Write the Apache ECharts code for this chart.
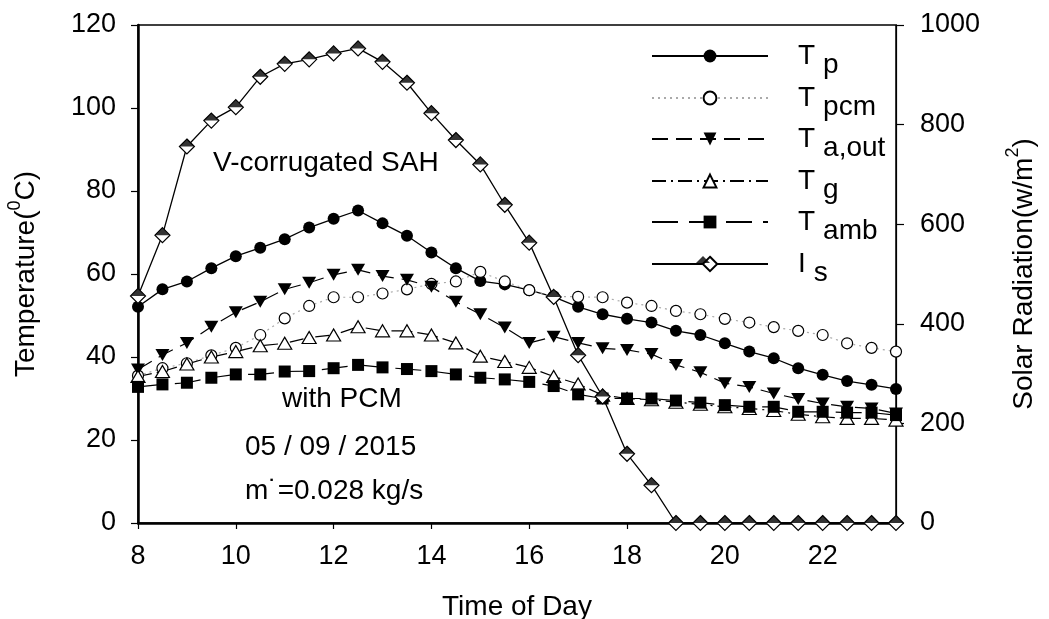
<!DOCTYPE html>
<html>
<head>
<meta charset="utf-8">
<script src="https://cdn.jsdelivr.net/npm/echarts@6/dist/echarts.min.js"></script>
<style>html,body{margin:0;padding:0;background:#fff;}#c{width:1049px;height:619px;}</style>
</head>
<body>
<div id="c"></div>
<script>
// ---- data ----
var time = [8,8.5,9,9.5,10,10.5,11,11.5,12,12.5,13,13.5,14,14.5,15,15.5,16,16.5,17,17.5,18,18.5,19,19.5,20,20.5,21,21.5,22,22.5,23,23.5];
var Tp   = [52.1,56.3,58.2,61.4,64.3,66.3,68.4,71.2,73.3,75.3,72.2,69.2,65.2,61.4,58.3,57.5,56.1,54.5,52.1,50.3,49.2,48.3,46.3,45.3,43.3,41.3,39.7,37.3,35.7,34.2,33.3,32.3];
var Tpcm = [35.5,37.3,38.5,40.4,42.2,45.3,49.3,52.3,54.4,54.4,55.3,56.3,57.6,58.2,60.5,58.2,56.1,54.6,54.5,54.4,53.1,52.3,51.1,50.3,49.2,48.3,47.2,46.3,45.3,43.3,42.2,41.3];
var Taout= [37.0,40.5,43.4,47.3,50.8,53.3,56.3,57.9,59.8,61.0,59.5,58.6,56.9,53.3,50.3,47.1,43.4,44.9,43.4,42.1,41.7,40.7,38.1,36.3,33.7,32.8,31.2,29.9,28.8,28.0,27.6,26.4];
var Tg   = [35.3,36.5,38.3,40.0,41.3,42.7,43.3,44.7,45.3,47.3,46.3,46.3,45.3,43.4,40.2,38.9,37.5,35.3,33.5,30.8,30.0,29.7,29.1,28.6,28.0,27.6,27.1,26.2,25.6,25.2,25.2,24.8];
var Tamb = [32.8,33.4,33.8,35.0,35.8,35.8,36.5,36.6,37.3,38.1,37.5,37.1,36.6,35.8,35.0,34.6,34.0,33.0,31.0,30.0,30.0,30.0,29.5,29.0,28.4,28.0,28.0,26.8,26.8,26.6,26.6,26.0];
var Is   = [456,578,756,808,835,896,922,931,943,953,926,884,823,769,720,639,563,454,337,254,139,76,0,0,0,0,0,0,0,0,0,0];
var xTicks = [8,10,12,14,16,18,20,22];
var seriesNames = ['T_p','T_pcm','T_a,out','T_g','T_amb','I_s'];
var legendMain  = ['T','T','T','T','T','I'];
var legendSub   = ['p','pcm','a,out','g','amb','s'];
var annotations = ['V-corrugated SAH','with PCM','05 / 09 / 2015','m\u02D9=0.028 kg/s'];

function pairs(v){ return time.map(function(t,i){ return [t, v[i]]; }); }

var FF = 'Liberation Sans, Arial, Helvetica, sans-serif';
// top half of a diamond, with an invisible point keeping the full diamond's bounding box
var HALF_DIAMOND = 'path://M0,7 L7,0 L14,7 Z M7,14 L7,14';
var chart = echarts.init(document.getElementById('c'), null, {renderer:'canvas'});

var legendCenters = [55, 97, 138, 180, 221, 263];
var legends = seriesNames.map(function(n, i){
  return {
    data: [n], left: 646, top: legendCenters[i] - 18, orient:'vertical', z:5,
    itemWidth: 116, itemHeight: (i===5?18:16), selectedMode:false,
    formatter: function(){ return '{t|' + legendMain[i] + '}{s|' + legendSub[i] + '}'; },
    textStyle: { rich: {
      t: {fontSize:28, fontFamily:FF, color:'#000', padding:[0,0,0,25]},
      s: {fontSize:28, fontFamily:FF, color:'#000', padding:[18,0,0,8]}
    }}
  };
});
legends.push({
  data:['I_s top'], left: 703-7, top: 263-7, padding:0, itemWidth:14, itemHeight:14, icon:HALF_DIAMOND, z:20,
  selectedMode:false, formatter:function(){return '';}, textStyle:{fontSize:6},
  itemStyle:{color:'#000'}
});

var blk = '#000';
var option = {
  animation:false,
  backgroundColor:'#fff',
  grid:{left:138, right:153, top:25, bottom:96, show:true, borderColor:'#000', borderWidth:1.5,
        backgroundColor:'transparent', outerBoundsMode:'none', containLabel:false},
  legend: legends,
  xAxis:{
    type:'value', min:8, max:23.5, interval:2,
    axisLine:{show:true, onZero:false, lineStyle:{color:blk, width:2.5}},
    axisTick:{show:true, inside:false, length:6, lineStyle:{color:blk, width:1.2}, customValues:xTicks},
    axisLabel:{customValues:xTicks, margin:20, fontSize:27, fontFamily:FF, color:blk},
    splitLine:{show:false},
    name:'Time of Day', nameLocation:'middle', nameGap:70,
    nameTextStyle:{fontSize:28, fontFamily:FF, color:blk}
  },
  yAxis:[{
    type:'value', min:0, max:120, interval:20, position:'left',
    axisLine:{show:true, onZero:false, lineStyle:{color:blk, width:2.5}},
    axisTick:{show:true, inside:false, length:7, lineStyle:{color:blk, width:1.2}},
    axisLabel:{margin:22, fontSize:27, fontFamily:FF, color:blk},
    splitLine:{show:false},
    name:'{n|Temperature(}{sup|0}{n|C)}', nameLocation:'middle', nameGap:92,
    nameTextStyle:{rich:{
      n:{fontSize:28, fontFamily:FF, color:blk},
      sup:{fontSize:18, fontFamily:FF, color:blk, padding:[0,0,22,0]}
    }}
  },{
    type:'value', min:0, max:1000, interval:200, position:'right',
    axisLine:{show:true, onZero:false, lineStyle:{color:blk, width:1.2}},
    axisTick:{show:true, inside:false, length:8, lineStyle:{color:blk, width:1.2}},
    axisLabel:{margin:24, fontSize:27, fontFamily:FF, color:blk, formatter:function(v){return String(v);}},
    splitLine:{show:false},
    name:'{n|Solar Radiation(w/m}{sup|2}{n|)}', nameLocation:'middle', nameGap:108,
    nameTextStyle:{rich:{
      n:{fontSize:28, fontFamily:FF, color:blk},
      sup:{fontSize:18, fontFamily:FF, color:blk, padding:[0,0,22,0]}
    }}
  }],
  series:[
    {name:'T_p', type:'line', data:pairs(Tp), clip:false, showAllSymbol:true,
     symbol:'circle', symbolSize:12, itemStyle:{color:blk},
     lineStyle:{color:blk, width:1.3, type:'solid'}},
    {name:'T_pcm', type:'line', data:pairs(Tpcm), clip:false, showAllSymbol:true,
     symbol:'circle', symbolSize:11, itemStyle:{color:'#fff', borderColor:blk, borderWidth:1.2},
     lineStyle:{color:'#aaa', width:1.2, type:[2,4]}},
    {name:'T_a,out', type:'line', data:pairs(Taout), clip:false, showAllSymbol:true,
     symbol:'triangle', symbolRotate:180, symbolSize:[14,12], itemStyle:{color:blk},
     lineStyle:{color:blk, width:1.2, type:[16,8]}},
    {name:'T_g', type:'line', data:pairs(Tg), clip:false, showAllSymbol:true,
     symbol:'triangle', symbolSize:[14,12], itemStyle:{color:'#fff', borderColor:blk, borderWidth:1.2},
     lineStyle:{color:blk, width:1.2, type:[14,5,2,5]}},
    {name:'T_amb', type:'line', data:pairs(Tamb), clip:false, showAllSymbol:true,
     symbol:'rect', symbolSize:12, itemStyle:{color:blk},
     lineStyle:{color:blk, width:1.2, type:[26,11]}},
    {name:'I_s', type:'line', yAxisIndex:1, data:pairs(Is), clip:false, showAllSymbol:true, z:3,
     symbol:'diamond', symbolSize:15, itemStyle:{color:'#fff', borderColor:blk, borderWidth:1.2},
     lineStyle:{color:blk, width:1.3, type:'solid'}},
    {name:'I_s top', type:'scatter', yAxisIndex:1, data:pairs(Is), clip:false, z:6,
     symbol:HALF_DIAMOND, symbolSize:15, itemStyle:{color:blk}}
  ],
  graphic:[
    {type:'text', left:213, top:149, style:{text:annotations[0], font:'28px ' + FF, fill:blk}},
    {type:'text', left:282, top:385, style:{text:annotations[1], font:'28px ' + FF, fill:blk}},
    {type:'text', left:245, top:433, style:{text:annotations[2], font:'28px ' + FF, fill:blk}},
    {type:'text', left:245, top:477, style:{text:annotations[3], font:'28px ' + FF, fill:blk}}
  ]
};
chart.setOption(option);
</script>
</body>
</html>
